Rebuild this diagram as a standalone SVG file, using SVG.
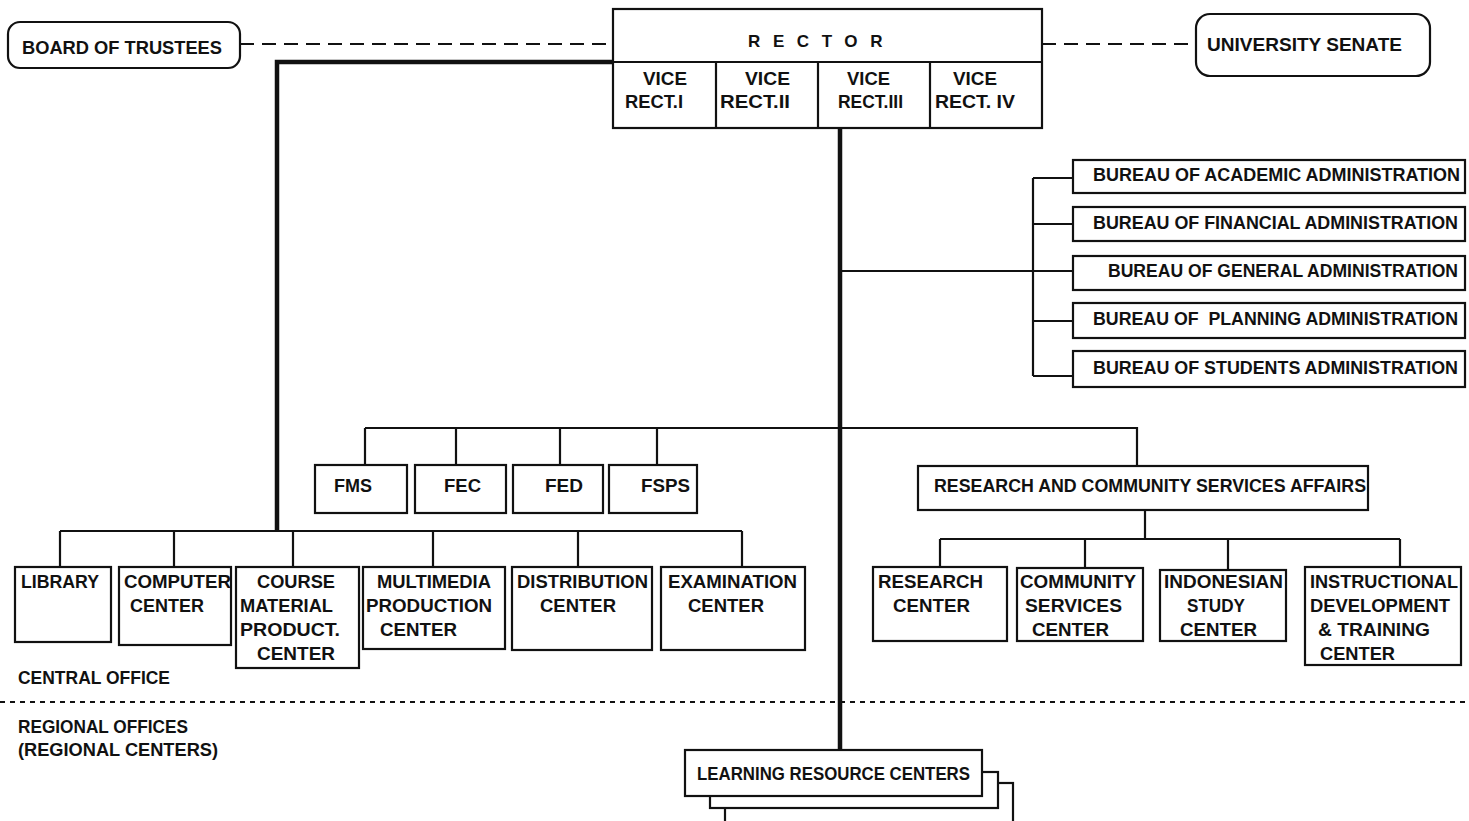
<svg xmlns="http://www.w3.org/2000/svg" width="1469" height="821" viewBox="0 0 1469 821">
<style>
text{font-family:"Liberation Sans",Arial,sans-serif;font-size:18px;font-weight:bold;fill:#111;}
.b{fill:#fff;stroke:#111;stroke-width:2.2;}
.l{fill:none;stroke:#111;stroke-width:2.2;}
.t{fill:none;stroke:#111;stroke-width:4.5;}
.d{fill:none;stroke:#111;stroke-width:2;stroke-dasharray:14 8;}
.o{fill:none;stroke:#111;stroke-width:1.8;stroke-dasharray:5 5;}
</style>
<rect width="1469" height="821" fill="#fff"/>
<g id="connectors">
<path class="d" d="M240,44 H613"/>
<path class="d" d="M1042,44 H1196"/>
<path class="t" d="M613,62 H277 V531"/>
<path class="t" d="M840,128 V750"/>
<path class="l" d="M840,271 H1033"/>
<path class="l" d="M1033,178 V376"/>
<path class="l" d="M1033,178 H1073 M1033,224 H1073 M1033,271 H1073 M1033,321 H1073 M1033,376 H1073"/>
<path class="l" d="M365,428 H1137 V466"/>
<path class="l" d="M365,428 V465 M456,428 V465 M560,428 V465 M657,428 V465"/>
<path class="l" d="M1145,510 V539 M940,539 H1400 M940,539 V567 M1085,539 V568 M1228,539 V570 M1400,539 V567"/>
<path class="l" d="M60,531 H742 M60,531 V567 M174,531 V567 M293,531 V567 M433,531 V567 M578,531 V567 M742,531 V567"/>
<path class="o" d="M0,702 H1469"/>
</g>
<g id="board">
<rect class="b" x="8" y="22" width="232" height="46" rx="12"/>
<text x="22" y="54" textLength="200" lengthAdjust="spacingAndGlyphs">BOARD OF TRUSTEES</text>
</g>
<g id="rector">
<rect class="b" x="613" y="9" width="429" height="119"/>
<path class="l" d="M613,62 H1042 M716,62 V128 M818,62 V128 M930,62 V128"/>
<text x="748" y="47" letter-spacing="12.6" style="font-size:17px">RECTOR</text>
</g>
<g id="vr1"><text x="643" y="85" textLength="44" lengthAdjust="spacingAndGlyphs">VICE</text><text x="625" y="108" textLength="58" lengthAdjust="spacingAndGlyphs">RECT.I</text></g>
<g id="vr2"><text x="745" y="85" textLength="45" lengthAdjust="spacingAndGlyphs">VICE</text><text x="720" y="108" textLength="70" lengthAdjust="spacingAndGlyphs">RECT.II</text></g>
<g id="vr3"><text x="847" y="85" textLength="43" lengthAdjust="spacingAndGlyphs">VICE</text><text x="838" y="108" textLength="65" lengthAdjust="spacingAndGlyphs">RECT.III</text></g>
<g id="vr4"><text x="953" y="85" textLength="44" lengthAdjust="spacingAndGlyphs">VICE</text><text x="935" y="108" textLength="80" lengthAdjust="spacingAndGlyphs">RECT. IV</text></g>
<g id="senate">
<rect class="b" x="1196" y="14" width="234" height="62" rx="14"/>
<text x="1207" y="51" textLength="195" lengthAdjust="spacingAndGlyphs">UNIVERSITY SENATE</text>
</g>
<g id="bureau-academic"><rect class="b" x="1073" y="160" width="392" height="33"/><text x="1093" y="181" textLength="367" lengthAdjust="spacingAndGlyphs">BUREAU OF ACADEMIC ADMINISTRATION</text></g>
<g id="bureau-financial"><rect class="b" x="1073" y="207" width="392" height="34"/><text x="1093" y="229" textLength="365" lengthAdjust="spacingAndGlyphs">BUREAU OF FINANCIAL ADMINISTRATION</text></g>
<g id="bureau-general"><rect class="b" x="1073" y="256" width="392" height="34"/><text x="1108" y="277" textLength="350" lengthAdjust="spacingAndGlyphs">BUREAU OF GENERAL ADMINISTRATION</text></g>
<g id="bureau-planning"><rect class="b" x="1073" y="303" width="392" height="35"/><text x="1093" y="325" textLength="365" lengthAdjust="spacingAndGlyphs" style="white-space:pre">BUREAU OF  PLANNING ADMINISTRATION</text></g>
<g id="bureau-students"><rect class="b" x="1073" y="351" width="392" height="36"/><text x="1093" y="374" textLength="365" lengthAdjust="spacingAndGlyphs">BUREAU OF STUDENTS ADMINISTRATION</text></g>
<g id="fms"><rect class="b" x="315" y="465" width="92" height="48"/><text x="334" y="492" textLength="38" lengthAdjust="spacingAndGlyphs">FMS</text></g>
<g id="fec"><rect class="b" x="415" y="465" width="91" height="48"/><text x="444" y="492" textLength="37" lengthAdjust="spacingAndGlyphs">FEC</text></g>
<g id="fed"><rect class="b" x="513" y="465" width="90" height="48"/><text x="545" y="492" textLength="38" lengthAdjust="spacingAndGlyphs">FED</text></g>
<g id="fsps"><rect class="b" x="609" y="465" width="88" height="48"/><text x="641" y="492" textLength="49" lengthAdjust="spacingAndGlyphs">FSPS</text></g>
<g id="rcsa"><rect class="b" x="918" y="466" width="450" height="44"/><text x="934" y="492" textLength="432" lengthAdjust="spacingAndGlyphs">RESEARCH AND COMMUNITY SERVICES AFFAIRS</text></g>
<g id="research-center"><rect class="b" x="873" y="567" width="134" height="74"/>
<text x="878" y="588" textLength="105" lengthAdjust="spacingAndGlyphs">RESEARCH</text><text x="893" y="612" textLength="77" lengthAdjust="spacingAndGlyphs">CENTER</text></g>
<g id="community-center"><rect class="b" x="1017" y="568" width="126" height="73"/>
<text x="1020" y="588" textLength="116" lengthAdjust="spacingAndGlyphs">COMMUNITY</text><text x="1025" y="612" textLength="97" lengthAdjust="spacingAndGlyphs">SERVICES</text><text x="1032" y="636" textLength="77" lengthAdjust="spacingAndGlyphs">CENTER</text></g>
<g id="indonesian-center"><rect class="b" x="1160" y="570" width="126" height="71"/>
<text x="1164" y="588" textLength="119" lengthAdjust="spacingAndGlyphs">INDONESIAN</text><text x="1187" y="612" textLength="58" lengthAdjust="spacingAndGlyphs">STUDY</text><text x="1180" y="636" textLength="77" lengthAdjust="spacingAndGlyphs">CENTER</text></g>
<g id="instructional-center"><rect class="b" x="1305" y="567" width="156" height="98"/>
<text x="1310" y="588" textLength="148" lengthAdjust="spacingAndGlyphs">INSTRUCTIONAL</text><text x="1310" y="612" textLength="140" lengthAdjust="spacingAndGlyphs">DEVELOPMENT</text><text x="1318" y="636" textLength="112" lengthAdjust="spacingAndGlyphs">&amp; TRAINING</text><text x="1320" y="660" textLength="75" lengthAdjust="spacingAndGlyphs">CENTER</text></g>
<g id="library"><rect class="b" x="15" y="567" width="96" height="75"/><text x="21" y="588" textLength="78" lengthAdjust="spacingAndGlyphs">LIBRARY</text></g>
<g id="computer-center"><rect class="b" x="119" y="567" width="112" height="78"/>
<text x="124" y="588" textLength="107" lengthAdjust="spacingAndGlyphs">COMPUTER</text><text x="130" y="612" textLength="74" lengthAdjust="spacingAndGlyphs">CENTER</text></g>
<g id="course-center"><rect class="b" x="236" y="567" width="123" height="101"/>
<text x="257" y="588" textLength="78" lengthAdjust="spacingAndGlyphs">COURSE</text><text x="240" y="612" textLength="93" lengthAdjust="spacingAndGlyphs">MATERIAL</text><text x="240" y="636" textLength="100" lengthAdjust="spacingAndGlyphs">PRODUCT.</text><text x="257" y="660" textLength="78" lengthAdjust="spacingAndGlyphs">CENTER</text></g>
<g id="multimedia-center"><rect class="b" x="363" y="567" width="142" height="82"/>
<text x="377" y="588" textLength="114" lengthAdjust="spacingAndGlyphs">MULTIMEDIA</text><text x="366" y="612" textLength="126" lengthAdjust="spacingAndGlyphs">PRODUCTION</text><text x="380" y="636" textLength="77" lengthAdjust="spacingAndGlyphs">CENTER</text></g>
<g id="distribution-center"><rect class="b" x="512" y="567" width="140" height="83"/>
<text x="517" y="588" textLength="131" lengthAdjust="spacingAndGlyphs">DISTRIBUTION</text><text x="540" y="612" textLength="76" lengthAdjust="spacingAndGlyphs">CENTER</text></g>
<g id="examination-center"><rect class="b" x="661" y="567" width="144" height="83"/>
<text x="668" y="588" textLength="129" lengthAdjust="spacingAndGlyphs">EXAMINATION</text><text x="688" y="612" textLength="76" lengthAdjust="spacingAndGlyphs">CENTER</text></g>
<g id="labels">
<text x="18" y="684" textLength="152" lengthAdjust="spacingAndGlyphs">CENTRAL OFFICE</text>
<text x="18" y="733" textLength="170" lengthAdjust="spacingAndGlyphs">REGIONAL OFFICES</text>
<text x="18" y="756" textLength="200" lengthAdjust="spacingAndGlyphs">(REGIONAL CENTERS)</text>
</g>
<g id="lrc">
<rect class="b" x="725" y="783" width="288" height="50"/>
<rect class="b" x="710" y="772" width="288" height="36"/>
<rect class="b" x="685" y="750" width="297" height="46"/>
<text x="697" y="780" textLength="273" lengthAdjust="spacingAndGlyphs">LEARNING RESOURCE CENTERS</text>
</g>
</svg>
